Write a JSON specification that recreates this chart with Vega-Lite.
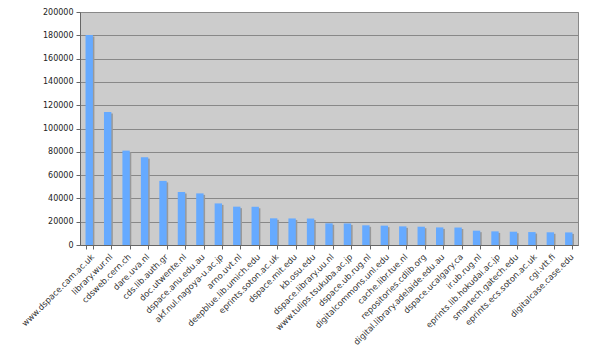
{
  "$schema": "https://vega.github.io/schema/vega-lite/v6.json",
  "width": 498,
  "height": 233,
  "autosize": {"type": "none"},
  "padding": {"left": 80, "top": 12, "right": 14, "bottom": 101},
  "background": "white",
  "config": {
    "view": {"fill": "#cccccc", "stroke": "#888888", "strokeWidth": 1},
    "font": "DejaVu Sans"
  },
  "data": {
    "values": [
      {"site": "www.dspace.cam.ac.uk", "count": 180200},
      {"site": "library.wur.nl", "count": 114200},
      {"site": "cdsweb.cern.ch", "count": 81000},
      {"site": "dare.uva.nl", "count": 75400},
      {"site": "cds.lib.auth.gr", "count": 55000},
      {"site": "doc.utwente.nl", "count": 45500},
      {"site": "dspace.anu.edu.au", "count": 44300},
      {"site": "akf.nul.nagoya-u.ac.jp", "count": 35700},
      {"site": "arno.uvt.nl", "count": 32900},
      {"site": "deepblue.lib.umich.edu", "count": 32800},
      {"site": "eprints.soton.ac.uk", "count": 22900},
      {"site": "dspace.mit.edu", "count": 22800},
      {"site": "kb.osu.edu", "count": 22700},
      {"site": "dspace.library.uu.nl", "count": 18600},
      {"site": "www.tulips.tsukuba.ac.jp", "count": 18500},
      {"site": "dspace.ub.rug.nl", "count": 16900},
      {"site": "digitalcommons.unl.edu", "count": 16600},
      {"site": "cache.libr.tue.nl", "count": 16000},
      {"site": "repositories.cdlib.org", "count": 15700},
      {"site": "digital.library.adelaide.edu.au", "count": 15100},
      {"site": "dspace.ucalgary.ca", "count": 15000},
      {"site": "ir.ub.rug.nl", "count": 12300},
      {"site": "eprints.lib.hokudai.ac.jp", "count": 11700},
      {"site": "smartech.gatech.edu", "count": 11400},
      {"site": "eprints.ecs.soton.ac.uk", "count": 11100},
      {"site": "cgi.vtt.fi", "count": 10900},
      {"site": "digitalcase.case.edu", "count": 10800}
    ]
  },
  "encoding": {
    "x": {
      "field": "site",
      "type": "nominal",
      "sort": null,
      "title": null,
      "scale": {"paddingInner": 0.6, "paddingOuter": 0.3},
      "axis": {
        "labelAngle": -45,
        "labelFontSize": 8.4,
        "labelColor": "#333333",
        "labelPadding": 3,
        "domainColor": "#666666",
        "tickColor": "#666666",
        "tickBand": "extent",
        "tickSize": 4,
        "grid": false
      }
    },
    "y": {
      "field": "count",
      "type": "quantitative",
      "title": null,
      "scale": {"domain": [0, 200000], "nice": false},
      "axis": {
        "values": [0, 20000, 40000, 60000, 80000, 100000, 120000, 140000, 160000, 180000, 200000],
        "format": "d",
        "labelFontSize": 8,
        "labelColor": "#222222",
        "labelPadding": 3,
        "domainColor": "#666666",
        "tickColor": "#666666",
        "tickSize": 4,
        "gridColor": "#888888",
        "gridWidth": 1.2
      }
    }
  },
  "layer": [
    {"mark": {"type": "bar", "color": "#999999", "xOffset": 1.5, "yOffset": 1.5, "clip": true}},
    {"mark": {"type": "bar", "color": "#66aaff"}}
  ]
}
